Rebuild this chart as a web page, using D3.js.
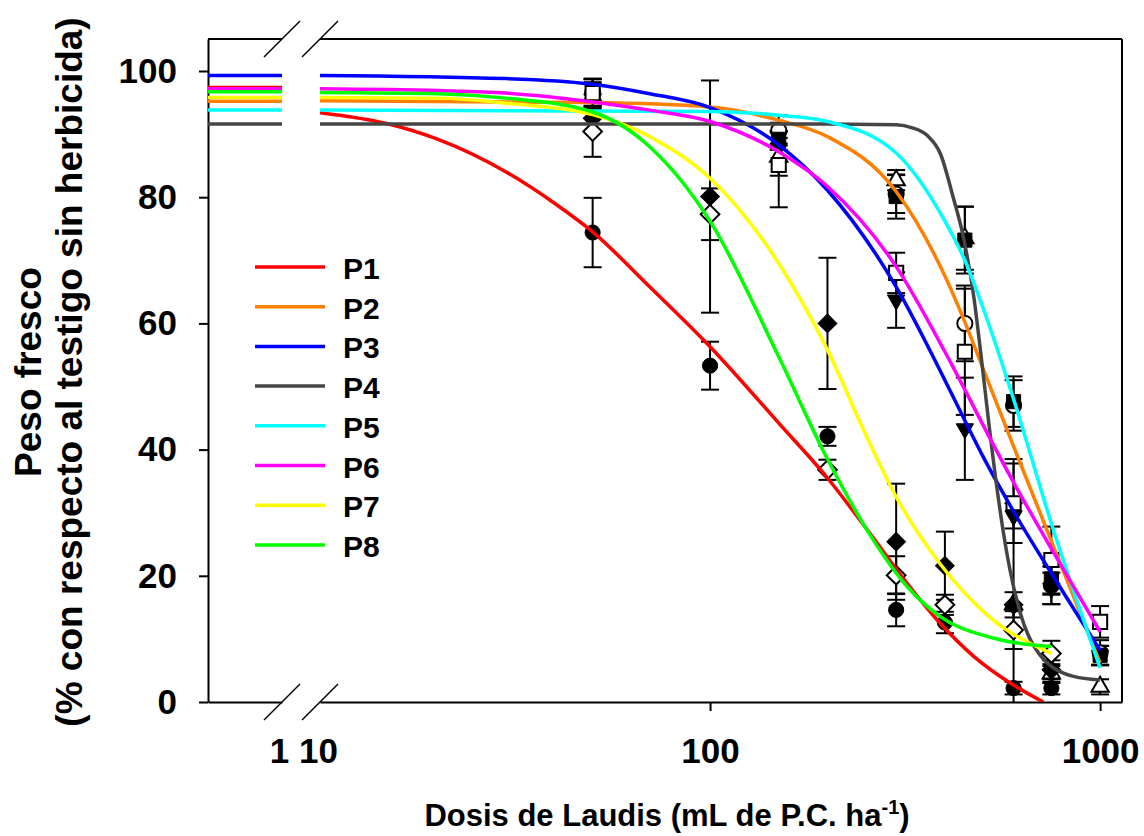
<!DOCTYPE html>
<html>
<head>
<meta charset="utf-8">
<script src="https://cdn.jsdelivr.net/npm/d3@7"></script>
<style>
  body { margin: 0; background: #fff; }
  text { font-family: "Liberation Sans", Arial, sans-serif; font-weight: bold; fill: #000; }
</style>
</head>
<body>
<svg id="chart" width="1144" height="836"></svg>
<script>
// series
const seriesNames = ["P1", "P2", "P3", "P4", "P5", "P6", "P7", "P8"];
const seriesColors = ["#ff0000", "#ff8000", "#0000ff", "#454545", "#00ffff", "#ff00ff", "#ffff00", "#00ff00"];
const seriesSymbols = ["circle", "circleOpen", "triDown", "triUpOpen", "square", "squareOpen", "diamond", "diamondOpen"];

// fitted curves: [dose, % fresh weight]
const controlValues = [97.4, 95.2, 99.3, 91.6, 93.8, 97.2, 95.8, 96.7];
const p1Curve = [[10, 93.4], [15, 91.6], [20, 89.2], [30, 84.0], [40, 79.0], [50, 74.5], [70, 65.8], [100, 56.3], [150, 44.2], [200, 35.5], [260, 26.3], [320, 18.8], [390, 12.4], [475, 7.2], [575, 3.4], [715, 0]];
const p2Curve = [[10, 95.3], [50, 95.0], [100, 94.3], [150, 92.2], [200, 89.6], [300, 80.9], [400, 67.5], [450, 60.2], [500, 53.0], [600, 40.5], [750, 25.5], [1000, 6.2]];
const p3Curve = [[10, 99.3], [30, 98.8], [50, 97.9], [70, 96.4], [100, 94.2], [150, 88.3], [200, 81.1], [300, 65.8], [400, 51.0], [450, 44.6], [500, 39.0], [600, 30.2], [750, 20.4], [1000, 8.2]];
const p4Curve = [[10, 91.6], [200, 91.6], [300, 91.5], [330, 91.0], [360, 89.8], [390, 86.8], [420, 80.0], [445, 74.0], [475, 64.0], [495, 55.0], [520, 43.5], [545, 33.5], [577, 23.5], [625, 14.0], [700, 7.5], [850, 4.1], [1000, 3.5]];
const p5Curve = [[10, 93.8], [100, 93.6], [150, 93.0], [200, 92.0], [300, 87.0], [400, 76.2], [450, 70.0], [500, 62.6], [600, 48.0], [750, 28.3], [1000, 5.4]];
const p6Curve = [[10, 97.2], [20, 96.9], [30, 96.5], [50, 95.1], [70, 93.8], [100, 92.0], [150, 87.2], [200, 81.7], [300, 69.0], [400, 55.5], [450, 49.5], [500, 44.0], [600, 34.8], [750, 24.3], [1000, 11.1]];
const p7Curve = [[10, 95.8], [20, 95.7], [30, 94.9], [50, 93.1], [70, 89.6], [100, 83.0], [150, 69.5], [200, 55.8], [250, 42.5], [300, 32.5], [390, 21.8], [520, 13.5], [750, 7.7]];
const p8Curve = [[10, 96.6], [20, 96.4], [30, 95.7], [50, 93.5], [70, 88.0], [100, 76.2], [150, 54.7], [200, 38.5], [262, 25.7], [320, 18.3], [390, 13.5], [520, 10.3], [750, 8.8]];
const curves = [p1Curve, p2Curve, p3Curve, p4Curve, p5Curve, p6Curve, p7Curve, p8Curve];

// observed means and standard errors
const dosesA = [50, 100, 200, 300, 400, 600, 750];   // P1, P7, P8
const dosesB = [50, 150, 300, 450, 600, 750, 1000];  // P2 - P6
const p1Mean = [74.4, 53.3, 42.1, 14.6, 12.6, 2.2, 2.2];
const p1Err  = [5.5, 3.8, 1.5, 2.6, 1.7, 1.0, 1.0];
const p2Mean = [96.5, 90.6, 80.5, 60.0, 47.0, 18.5, 7.8];
const p2Err  = [1.5, 2.4, 3.0, 6.0, 4.0, 3.0, 2.0];
const p3Mean = [97.5, 89.5, 63.7, 43.3, 29.5, 18.0, 7.4];
const p3Err  = [1.2, 1.0, 4.4, 8.1, 2.0, 2.5, 1.5];
const p4Mean = [96.0, 86.4, 82.7, 73.5, 15.5, 4.5, 2.4];
const p4Err  = [2.0, 3.0, 1.6, 5.0, 23.0, 1.5, 1.2];
const p5Mean = [97.0, 89.0, 80.1, 73.2, 47.6, 19.5, 7.4];
const p5Err  = [1.8, 1.5, 3.5, 5.3, 4.0, 2.5, 1.5];
const p6Mean = [96.5, 85.1, 68.0, 55.5, 31.5, 22.5, 12.7];
const p6Err  = [2.2, 6.7, 3.2, 10.0, 6.3, 5.3, 2.5];
const p7Mean = [92.5, 80.1, 60.0, 25.4, 21.6, 15.4, 5.1];
const p7Err  = [2.0, 18.4, 10.4, 9.2, 5.4, 2.0, 1.5];
const p8Mean = [90.4, 77.3, 36.8, 20.1, 15.4, 11.4, 7.7];
const p8Err  = [4.0, 4.1, 1.6, 3.0, 1.6, 3.0, 2.0];
const pointDoses = [dosesA, dosesB, dosesB, dosesB, dosesB, dosesB, dosesA, dosesA];
const pointMeans = [p1Mean, p2Mean, p3Mean, p4Mean, p5Mean, p6Mean, p7Mean, p8Mean];
const pointErrs = [p1Err, p2Err, p3Err, p4Err, p5Err, p6Err, p7Err, p8Err];

const yTicks = [0, 20, 40, 60, 80, 100];
const xTicksLeft = [1];
const xTicksRight = [10, 100, 1000];

const svg = d3.select("#chart");

const y = d3.scaleLinear().domain([0, 105.07]).range([702, 39]);
const xL = d3.scaleLog().domain([0.1, 1]).range([208, 282]);
const xR = d3.scaleLog().domain([10, 1138]).range([320, 1122]);

const yTop = y.range()[1], yBot = y.range()[0];

// frame: top border (broken) and right border
svg.append("g").selectAll("line")
    .data([xL.range(), xR.range()])
    .join("line")
    .attr("x1", d => d[0]).attr("x2", d => d[1])
    .attr("y1", yTop).attr("y2", yTop)
    .attr("stroke", "#000").attr("stroke-width", 2);
svg.append("line")
    .attr("x1", xR.range()[1]).attr("x2", xR.range()[1])
    .attr("y1", yTop).attr("y2", yBot)
    .attr("stroke", "#000").attr("stroke-width", 2);

// y axis
const yAxis = svg.append("g")
    .attr("transform", "translate(" + xL.range()[0] + ",0)")
    .call(d3.axisLeft(y).tickValues(yTicks).tickSize(9).tickSizeOuter(0).tickPadding(22));

// x axis, left piece and right piece
const xAxisL = svg.append("g")
    .attr("transform", "translate(0," + yBot + ")")
    .call(d3.axisBottom(xL).tickValues(xTicksLeft).tickFormat(d3.format("d")).tickSize(0).tickSizeOuter(0).tickPadding(36));
const xAxisR = svg.append("g")
    .attr("transform", "translate(0," + yBot + ")")
    .call(d3.axisBottom(xR).tickValues(xTicksRight).tickFormat(d3.format("d")).tickSize(9).tickSizeOuter(0).tickPadding(27));
xAxisR.selectAll(".tick").filter(d => d === 10).select("line").remove();
xAxisR.selectAll(".tick").filter(d => d === 10).select("text").attr("dx", -2);
xAxisL.select(".tick text").attr("dx", -3);

[yAxis, xAxisL, xAxisR].forEach(g => {
    g.attr("font-family", null).attr("font-size", null);
    g.select(".domain").attr("stroke-width", 2);
    g.selectAll(".tick line").attr("stroke-width", 2);
    g.selectAll(".tick text").style("font-size", "35px");
});

// axis break marks
const breaks = [xL.range()[1], xR.range()[0]];
[yTop, yBot].forEach(yy => {
    svg.append("g").selectAll("line")
        .data(breaks)
        .join("line")
        .attr("x1", d => d - 18).attr("y1", yy + 18)
        .attr("x2", d => d + 18).attr("y2", yy - 18)
        .attr("stroke", "#000").attr("stroke-width", 1.5);
});

// symbols
const symGen = {
    circle: d3.symbol(d3.symbolCircle, 180),
    square: d3.symbol(d3.symbolSquare, 200),
    tri: d3.symbol(d3.symbolTriangle, 130),
    diamond: d3.symbol(d3.symbolSquare, 175)
};
function symbolPath(kind) {
    if (kind.startsWith("circle")) return symGen.circle();
    if (kind.startsWith("square")) return symGen.square();
    if (kind.startsWith("tri")) return symGen.tri();
    return symGen.diamond();
}
function symbolRotation(kind) {
    if (kind === "triDown") return 180;
    if (kind.startsWith("diamond")) return 45;
    return 0;
}

// error bars and points
const capW = 9;
const pointsG = svg.append("g");
seriesNames.forEach((name, si) => {
    const pts = pointDoses[si].map((d, i) => ({ dose: d, m: pointMeans[si][i], e: pointErrs[si][i] }));
    const g = pointsG.append("g");
    const eb = g.selectAll("g.eb").data(pts).join("g").attr("class", "eb");
    eb.append("line")
        .attr("x1", d => xR(d.dose)).attr("x2", d => xR(d.dose))
        .attr("y1", d => y(Math.max(0, d.m - d.e))).attr("y2", d => y(d.m + d.e))
        .attr("stroke", "#000").attr("stroke-width", 2);
    eb.append("line")
        .attr("x1", d => xR(d.dose) - capW).attr("x2", d => xR(d.dose) + capW)
        .attr("y1", d => y(d.m + d.e)).attr("y2", d => y(d.m + d.e))
        .attr("stroke", "#000").attr("stroke-width", 2);
    eb.filter(d => d.m - d.e > 0).append("line")
        .attr("x1", d => xR(d.dose) - capW).attr("x2", d => xR(d.dose) + capW)
        .attr("y1", d => y(d.m - d.e)).attr("y2", d => y(d.m - d.e))
        .attr("stroke", "#000").attr("stroke-width", 2);
});
seriesNames.forEach((name, si) => {
    const kind = seriesSymbols[si];
    const open = kind.endsWith("Open");
    const pts = pointDoses[si].map((d, i) => ({ dose: d, m: pointMeans[si][i] }));
    pointsG.append("g").selectAll("path")
        .data(pts)
        .join("path")
        .attr("d", symbolPath(kind))
        .attr("transform", d => "translate(" + xR(d.dose) + "," + y(d.m) + ") rotate(" + symbolRotation(kind) + ")")
        .attr("fill", open ? "#fff" : "#000")
        .attr("stroke", "#000")
        .attr("stroke-width", open ? 2 : 1);
});

// curves
svg.append("defs").append("clipPath").attr("id", "plotclip")
    .append("rect")
    .attr("x", xR.range()[0]).attr("y", yTop)
    .attr("width", xR.range()[1] - xR.range()[0]).attr("height", yBot - yTop);

const lineR = d3.line()
    .x(d => xR(d[0]))
    .y(d => y(d[1]))
    .curve(d3.curveMonotoneX);
const lineL = d3.line()
    .x(d => xL(d[0]))
    .y(d => y(d[1]));

const curvesG = svg.append("g");
seriesNames.forEach((name, si) => {
    curvesG.append("path")
        .datum(xL.domain().map(d => [d, controlValues[si]]))
        .attr("d", lineL)
        .attr("fill", "none")
        .attr("stroke", seriesColors[si])
        .attr("stroke-width", 3.5);
    curvesG.append("path")
        .datum(curves[si])
        .attr("d", lineR)
        .attr("clip-path", "url(#plotclip)")
        .attr("fill", "none")
        .attr("stroke", seriesColors[si])
        .attr("stroke-width", 3.5);
});

// legend
const legend = svg.append("g").attr("transform", "translate(255,267)");
const legendItems = legend.selectAll("g")
    .data(seriesNames)
    .join("g")
    .attr("transform", (d, i) => "translate(0," + (i * 39.7) + ")");
legendItems.append("line")
    .attr("x1", 0).attr("x2", 70)
    .attr("stroke", (d, i) => seriesColors[i])
    .attr("stroke-width", 3.5);
legendItems.append("text")
    .attr("x", 88).attr("y", 12)
    .style("font-size", "30px")
    .text(d => d);

// axis titles
svg.append("text")
    .attr("transform", "translate(41,372) rotate(-90)")
    .attr("text-anchor", "middle")
    .style("font-size", "37px")
    .text("Peso fresco");
svg.append("text")
    .attr("transform", "translate(82,372) rotate(-90)")
    .attr("text-anchor", "middle")
    .style("font-size", "37px")
    .text("(% con respecto al testigo sin herbicida)");

const xTitle = svg.append("text")
    .attr("x", 667).attr("y", 826)
    .attr("text-anchor", "middle")
    .style("font-size", "31px");
xTitle.append("tspan").text("Dosis de Laudis (mL de P.C. ha");
xTitle.append("tspan").attr("dy", -12).style("font-size", "20px").text("-1");
xTitle.append("tspan").attr("dy", 12).text(")");
</script>
</body>
</html>
